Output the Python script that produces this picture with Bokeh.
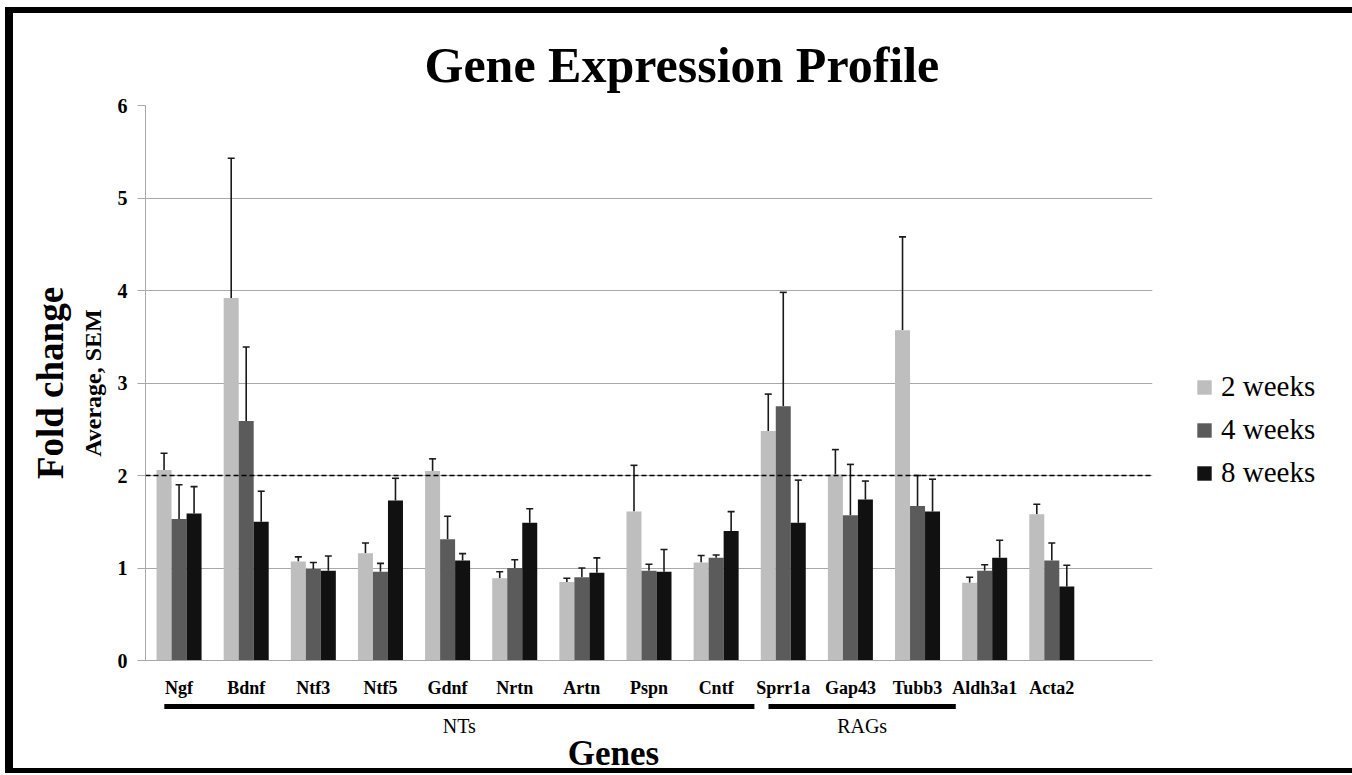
import numpy as np
from bokeh.plotting import figure
from bokeh.layouts import column
from bokeh.models import (ColumnDataSource, Range1d, FixedTicker, Whisker, TeeHead, Span,
                          Legend, LegendItem, Title)
from bokeh.core.properties import value
from bokeh.embed import file_html
from bokeh.resources import INLINE

# ---------------- data ----------------
genes = ["Ngf", "Bdnf", "Ntf3", "Ntf5", "Gdnf", "Nrtn", "Artn", "Pspn", "Cntf",
         "Sprr1a", "Gap43", "Tubb3", "Aldh3a1", "Acta2"]
series_labels = ["2 weeks", "4 weeks", "8 weeks"]
mean_2w = [2.06, 3.92, 1.07, 1.16, 2.05, 0.89, 0.85, 1.61, 1.06, 2.48, 2.01, 3.57, 0.84, 1.58]
sem_2w = [0.18, 1.51, 0.05, 0.11, 0.13, 0.07, 0.04, 0.50, 0.075, 0.40, 0.27, 1.01, 0.06, 0.11]
mean_4w = [1.53, 2.59, 0.99, 0.96, 1.31, 1.00, 0.90, 0.97, 1.11, 2.75, 1.57, 1.67, 0.97, 1.08]
sem_4w = [0.37, 0.80, 0.07, 0.09, 0.25, 0.09, 0.10, 0.07, 0.03, 1.23, 0.55, 0.33, 0.065, 0.19]
mean_8w = [1.59, 1.50, 0.97, 1.73, 1.08, 1.49, 0.95, 0.96, 1.40, 1.49, 1.74, 1.61, 1.11, 0.80]
sem_8w = [0.29, 0.33, 0.16, 0.24, 0.075, 0.15, 0.16, 0.24, 0.21, 0.46, 0.20, 0.35, 0.19, 0.23]
y_ticks = [0, 1, 2, 3, 4, 5, 6]
threshold = 2
group_names = ["NTs", "RAGs"]
group_first = ["Ngf", "Sprr1a"]
group_last = ["Cntf", "Tubb3"]

# ---------------- styles ----------------
SERIF = "Liberation Serif"
colors = ["#BEBEBE", "#5B5B5B", "#111111"]
BAR_W = 0.2235
GRID = "#A8A8A8"
FRAME_W, FRAME_H = 1007, 555
LEFT, RIGHT, TOP, BOTTOM = 145, 196, 105, 42
STRIP_H = 71

n_slots = len(genes) + 1  # the chart keeps one empty slot at the right
x_range = Range1d(-0.5, n_slots - 0.5)

p = figure(frame_width=FRAME_W, frame_height=FRAME_H, output_backend="svg",
           toolbar_location=None, x_range=x_range, y_range=Range1d(y_ticks[0], y_ticks[-1]),
           min_border_left=LEFT, min_border_right=RIGHT, min_border_top=TOP,
           min_border_bottom=BOTTOM)
p.outline_line_color = None
p.border_fill_alpha = 0
p.background_fill_color = "white"

xs = np.arange(len(genes))
means = [mean_2w, mean_4w, mean_8w]
sems = [sem_2w, sem_4w, sem_8w]
offsets = [-BAR_W, 0.0, BAR_W]

renderers = []
for i in range(3):
    m = np.array(means[i])
    s = np.array(sems[i])
    src = ColumnDataSource(dict(x=xs + offsets[i], top=m, upper=m + s, gene=genes))
    r = p.vbar(x="x", top="top", bottom=0, width=BAR_W, source=src,
               fill_color=colors[i], line_color=None)
    renderers.append(r)
    p.add_layout(Whisker(base="x", lower="top", upper="upper", source=src, dimension="height",
                         line_color="#1A1A1A", line_width=1.6,
                         upper_head=TeeHead(size=7, line_color="#1A1A1A", line_width=1.6),
                         lower_head=None))

p.add_layout(Span(location=threshold, dimension="width", line_color="black",
                  line_dash="5 3", line_width=1.6))

# axes
p.yaxis.ticker = FixedTicker(ticks=y_ticks)
p.ygrid.ticker = FixedTicker(ticks=y_ticks)
p.ygrid.grid_line_color = GRID
p.xgrid.grid_line_color = None
p.yaxis.axis_line_color = GRID
p.yaxis.major_tick_line_color = GRID
p.yaxis.major_tick_out = 8
p.yaxis.major_tick_in = 0
p.yaxis.minor_tick_line_color = None
p.yaxis.major_label_standoff = 10
p.yaxis.major_label_text_font = SERIF
p.yaxis.major_label_text_font_style = "bold"
p.yaxis.major_label_text_font_size = "20px"
p.yaxis.major_label_text_color = "black"

p.xaxis.ticker = FixedTicker(ticks=list(range(len(genes))))
p.xaxis.major_label_overrides = {i: g for i, g in enumerate(genes)}
p.xaxis.axis_line_color = GRID
p.xaxis.major_tick_line_color = None
p.xaxis.minor_tick_line_color = None
p.xaxis.major_tick_out = 0
p.xaxis.major_label_standoff = 17
p.xaxis.major_label_text_font = SERIF
p.xaxis.major_label_text_font_style = "bold"
p.xaxis.major_label_text_font_size = "18px"
p.xaxis.major_label_text_color = "black"

# titles in the side panels
p.add_layout(Title(text="Gene Expression Profile", align="left", offset=279, standoff=25,
                   text_font=SERIF, text_font_style="bold", text_font_size="50px",
                   text_color="black"), "above")
p.add_layout(Title(text="Average, SEM", align="center", standoff=18, text_font=SERIF,
                   text_font_style="bold", text_font_size="24px", text_color="black"), "left")
p.add_layout(Title(text="Fold change", align="center", standoff=-4, text_font=SERIF,
                   text_font_style="bold", text_font_size="37px", text_color="black"), "left")

# legend
legend = Legend(items=[LegendItem(label=lab, renderers=[r]) for lab, r in zip(series_labels, renderers)],
                location=(43, 171), orientation="vertical", glyph_width=18, glyph_height=18,
                label_standoff=8, spacing=10, padding=0, margin=0,
                label_text_font=SERIF, label_text_font_size="29px", label_text_color="black",
                border_line_color=None, background_fill_alpha=0)
p.add_layout(legend, "right")

# ---------------- strip under the axis: gene groups and axis title ----------------
p2 = figure(frame_width=FRAME_W, frame_height=STRIP_H, output_backend="svg",
            toolbar_location=None, x_range=x_range, y_range=Range1d(0, STRIP_H),
            x_axis_type=None, y_axis_type=None,
            min_border_left=LEFT, min_border_right=RIGHT, min_border_top=0, min_border_bottom=0)
p2.outline_line_color = None
p2.grid.visible = False
p2.border_fill_alpha = 0
p2.background_fill_alpha = 0

ga = [genes.index(f) - 0.22 for f in group_first]
gb = [genes.index(l) + 0.57 for l in group_last]
gsrc = ColumnDataSource(dict(left=ga, right=gb, mid=[(a + b) / 2 for a, b in zip(ga, gb)],
                             name=group_names))
p2.hbar(y=STRIP_H - 4, left="left", right="right", height=5, source=gsrc,
        fill_color="black", line_color=None)
p2.text(x="mid", y=STRIP_H - 23, text="name", source=gsrc, text_align="center",
        text_baseline="alphabetic", text_font=value(SERIF), text_font_size=value("20px"),
        text_color="black")
p2.text(x=[(x_range.start + x_range.end) / 2 - 0.53], y=[20], text=["Genes"],
        text_align="center", text_baseline="alphabetic", text_font=value(SERIF),
        text_font_style="bold", text_font_size=value("35px"), text_color="black")

# black picture frame drawn by the page behind the (transparent) canvas borders
frame_css = ", ".join([
    "inset 0 7px 0 0 white", "inset 5px 0 0 0 white", "inset -1px 0 0 0 white",
    "inset 0 13px 0 0 black", "inset 13px 0 0 0 black", "inset -9px 0 0 0 black",
    "inset 0 -5px 0 0 black"])
layout = column(p, p2, spacing=0, styles={"background-color": "white", "box-shadow": frame_css})
open("out.html", "w").write(file_html(layout, INLINE))
